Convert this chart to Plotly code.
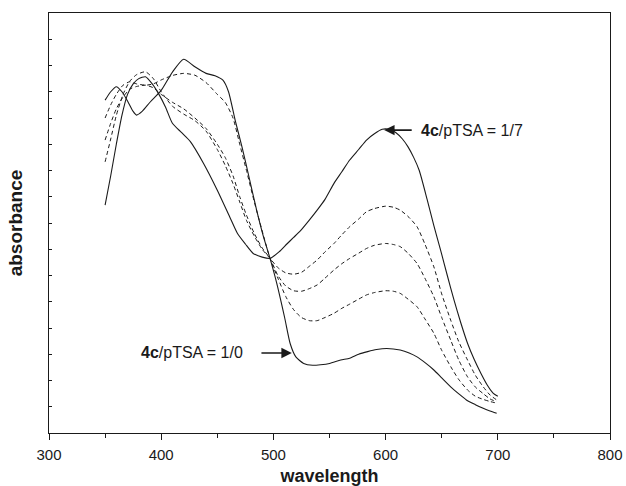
import plotly.graph_objects as go

# ---- data ----
wl_1_0 = [350, 355, 360, 365, 370, 375, 378, 383, 390, 400, 410, 420, 430, 440, 448, 455, 460, 466, 472, 478, 485, 491, 497,
          503, 510, 515, 520, 527, 535, 542, 550, 560, 568, 576, 584, 592, 601, 613, 621, 628, 636, 643, 650, 658, 665, 672, 680, 687, 693, 699]
abs_1_0 = [1.268, 1.30, 1.319, 1.30, 1.265, 1.225, 1.211, 1.225, 1.26, 1.305, 1.375, 1.424, 1.395, 1.37, 1.361, 1.344, 1.30, 1.19, 1.09, 0.98, 0.85, 0.75, 0.665,
           0.57, 0.44, 0.34, 0.29, 0.265, 0.258, 0.26, 0.265, 0.278, 0.285, 0.30, 0.31, 0.318, 0.322, 0.316, 0.305, 0.29, 0.265, 0.24, 0.21, 0.176, 0.15, 0.126, 0.108, 0.094, 0.084, 0.075]

wl_1_7 = [350, 355, 360, 365, 370, 375, 380, 386, 392, 398, 404, 410, 418, 426, 438, 450, 461, 468, 475, 482, 490, 497,
          505, 512, 518, 524, 532, 539, 546, 554, 561, 568, 576, 583, 590, 597, 603, 609, 615, 620, 625, 630, 637, 643, 649, 655,
          661, 667, 673, 679, 685, 691, 696, 700]
abs_1_7 = [0.868, 0.98, 1.10, 1.21, 1.29, 1.33, 1.35, 1.357, 1.33, 1.29, 1.24, 1.18, 1.145, 1.11, 1.025, 0.925, 0.824, 0.76, 0.72, 0.684, 0.67, 0.665,
           0.69, 0.72, 0.745, 0.77, 0.811, 0.849, 0.89, 0.951, 0.995, 1.04, 1.08, 1.116, 1.14, 1.157, 1.157, 1.145, 1.12, 1.09, 1.05, 1.00, 0.89, 0.79, 0.697, 0.60,
           0.506, 0.42, 0.342, 0.28, 0.227, 0.18, 0.151, 0.14]

wl_mid = [350, 355, 360, 366, 372, 378, 386, 393, 400, 410, 420, 430, 440, 450, 457, 464, 470, 476, 483, 490, 497,
          504, 511, 518, 525, 532, 539, 546, 554, 561, 568, 576, 583, 590, 600, 607, 613, 620, 628, 635, 643, 650, 658, 665,
          673, 680, 687, 693, 699]
abs_mid_a = [1.20, 1.25, 1.29, 1.325, 1.338, 1.33, 1.325, 1.33, 1.345, 1.362, 1.37, 1.363, 1.335, 1.29, 1.26, 1.20, 1.10, 1.00, 0.88, 0.77, 0.665,
             0.59, 0.52, 0.47, 0.44, 0.428, 0.428, 0.44, 0.456, 0.475, 0.491, 0.51, 0.526, 0.535, 0.542, 0.54, 0.532, 0.51, 0.481, 0.435, 0.38, 0.315, 0.253, 0.205,
             0.164, 0.14, 0.128, 0.12, 0.114]
abs_mid_b = [1.116, 1.18, 1.235, 1.28, 1.31, 1.32, 1.325, 1.315, 1.29, 1.26, 1.235, 1.20, 1.16, 1.10, 1.05, 0.98, 0.90, 0.83, 0.76, 0.705, 0.665,
             0.60, 0.56, 0.542, 0.54, 0.55, 0.564, 0.59, 0.621, 0.645, 0.665, 0.685, 0.703, 0.715, 0.722, 0.718, 0.71, 0.685, 0.646, 0.59, 0.519, 0.44, 0.354, 0.28,
             0.214, 0.175, 0.15, 0.13, 0.119]
abs_mid_c = [1.033, 1.12, 1.21, 1.29, 1.34, 1.365, 1.376, 1.35, 1.30, 1.245, 1.215, 1.19, 1.15, 1.08, 1.02, 0.95, 0.88, 0.81, 0.75, 0.70, 0.665,
             0.63, 0.61, 0.605, 0.612, 0.635, 0.659, 0.69, 0.722, 0.755, 0.786, 0.815, 0.843, 0.855, 0.864, 0.86, 0.849, 0.825, 0.786, 0.72, 0.633, 0.53, 0.43, 0.35,
             0.278, 0.22, 0.176, 0.145, 0.126]

x_ticks = [300, 400, 500, 600, 700, 800]
label_1_7 = "<b>4c</b>/pTSA = 1/7"
label_1_0 = "<b>4c</b>/pTSA = 1/0"

FONT = "Liberation Sans, Arial, sans-serif"
INK = "#1a1a1a"
solid = dict(color=INK, width=1.1, shape="spline", smoothing=0.6)
dashed = dict(color=INK, width=1.0, dash="4px,3px", shape="spline", smoothing=0.6)

fig = go.Figure()
fig.add_trace(go.Scatter(x=wl_1_0, y=abs_1_0, mode="lines", line=solid, name="1/0"))
fig.add_trace(go.Scatter(x=wl_mid, y=abs_mid_a, mode="lines", line=dashed, name="a"))
fig.add_trace(go.Scatter(x=wl_mid, y=abs_mid_b, mode="lines", line=dashed, name="b"))
fig.add_trace(go.Scatter(x=wl_mid, y=abs_mid_c, mode="lines", line=dashed, name="c"))
fig.add_trace(go.Scatter(x=wl_1_7, y=abs_1_7, mode="lines", line=solid, name="1/7"))

# arrows + labels
fig.add_annotation(x=598.7, y=1.154, ax=624.6, ay=1.154, axref="x", ayref="y", text="",
                   showarrow=True, arrowhead=2, arrowsize=1.3, arrowwidth=1.6, arrowcolor=INK)
fig.add_annotation(x=630, y=1.154, text=label_1_7, showarrow=False, xanchor="left", yanchor="middle",
                   font=dict(family=FONT, size=16, color=INK))
fig.add_annotation(x=516.4, y=0.305, ax=488, ay=0.305, axref="x", ayref="y", text="",
                   showarrow=True, arrowhead=2, arrowsize=1.3, arrowwidth=1.6, arrowcolor=INK)
fig.add_annotation(x=474.8, y=0.305, text=label_1_0, showarrow=False, xanchor="right", yanchor="middle",
                   font=dict(family=FONT, size=16, color=INK))

fig.update_layout(
    width=626, height=486,
    margin=dict(l=49, r=16, t=13, b=53, autoexpand=False),
    paper_bgcolor="white", plot_bgcolor="white",
    showlegend=False,
    font=dict(family=FONT, size=15, color=INK),
)
fig.update_xaxes(range=[300, 800], tickvals=x_ticks, ticktext=[str(v) for v in x_ticks],
                 ticks="outside", ticklen=6, tickwidth=1, tickcolor=INK,
                 minor=dict(dtick=50, ticks="outside", ticklen=4, tickcolor=INK),
                 showline=True, linecolor=INK, linewidth=1, mirror=True,
                 showgrid=False, zeroline=False, automargin=False,
                 ticklabelstandoff=2,
                 tickfont=dict(family=FONT, size=15, color=INK),
                 title=dict(text="<b>wavelength</b>", standoff=8, font=dict(family=FONT, size=18)))
fig.update_yaxes(range=[0, 1.6], dtick=0.1, ticks="inside", ticklen=3, tickcolor=INK,
                 showticklabels=False,
                 showline=True, linecolor=INK, linewidth=1, mirror=True,
                 showgrid=False, zeroline=False, automargin=False,
                 title=dict(text="<b>absorbance</b>", standoff=20, font=dict(family=FONT, size=19)))

fig.write_html("out.html", config={"displayModeBar": False},
               post_script="document.body.style.margin='0';document.body.style.padding='0';")
